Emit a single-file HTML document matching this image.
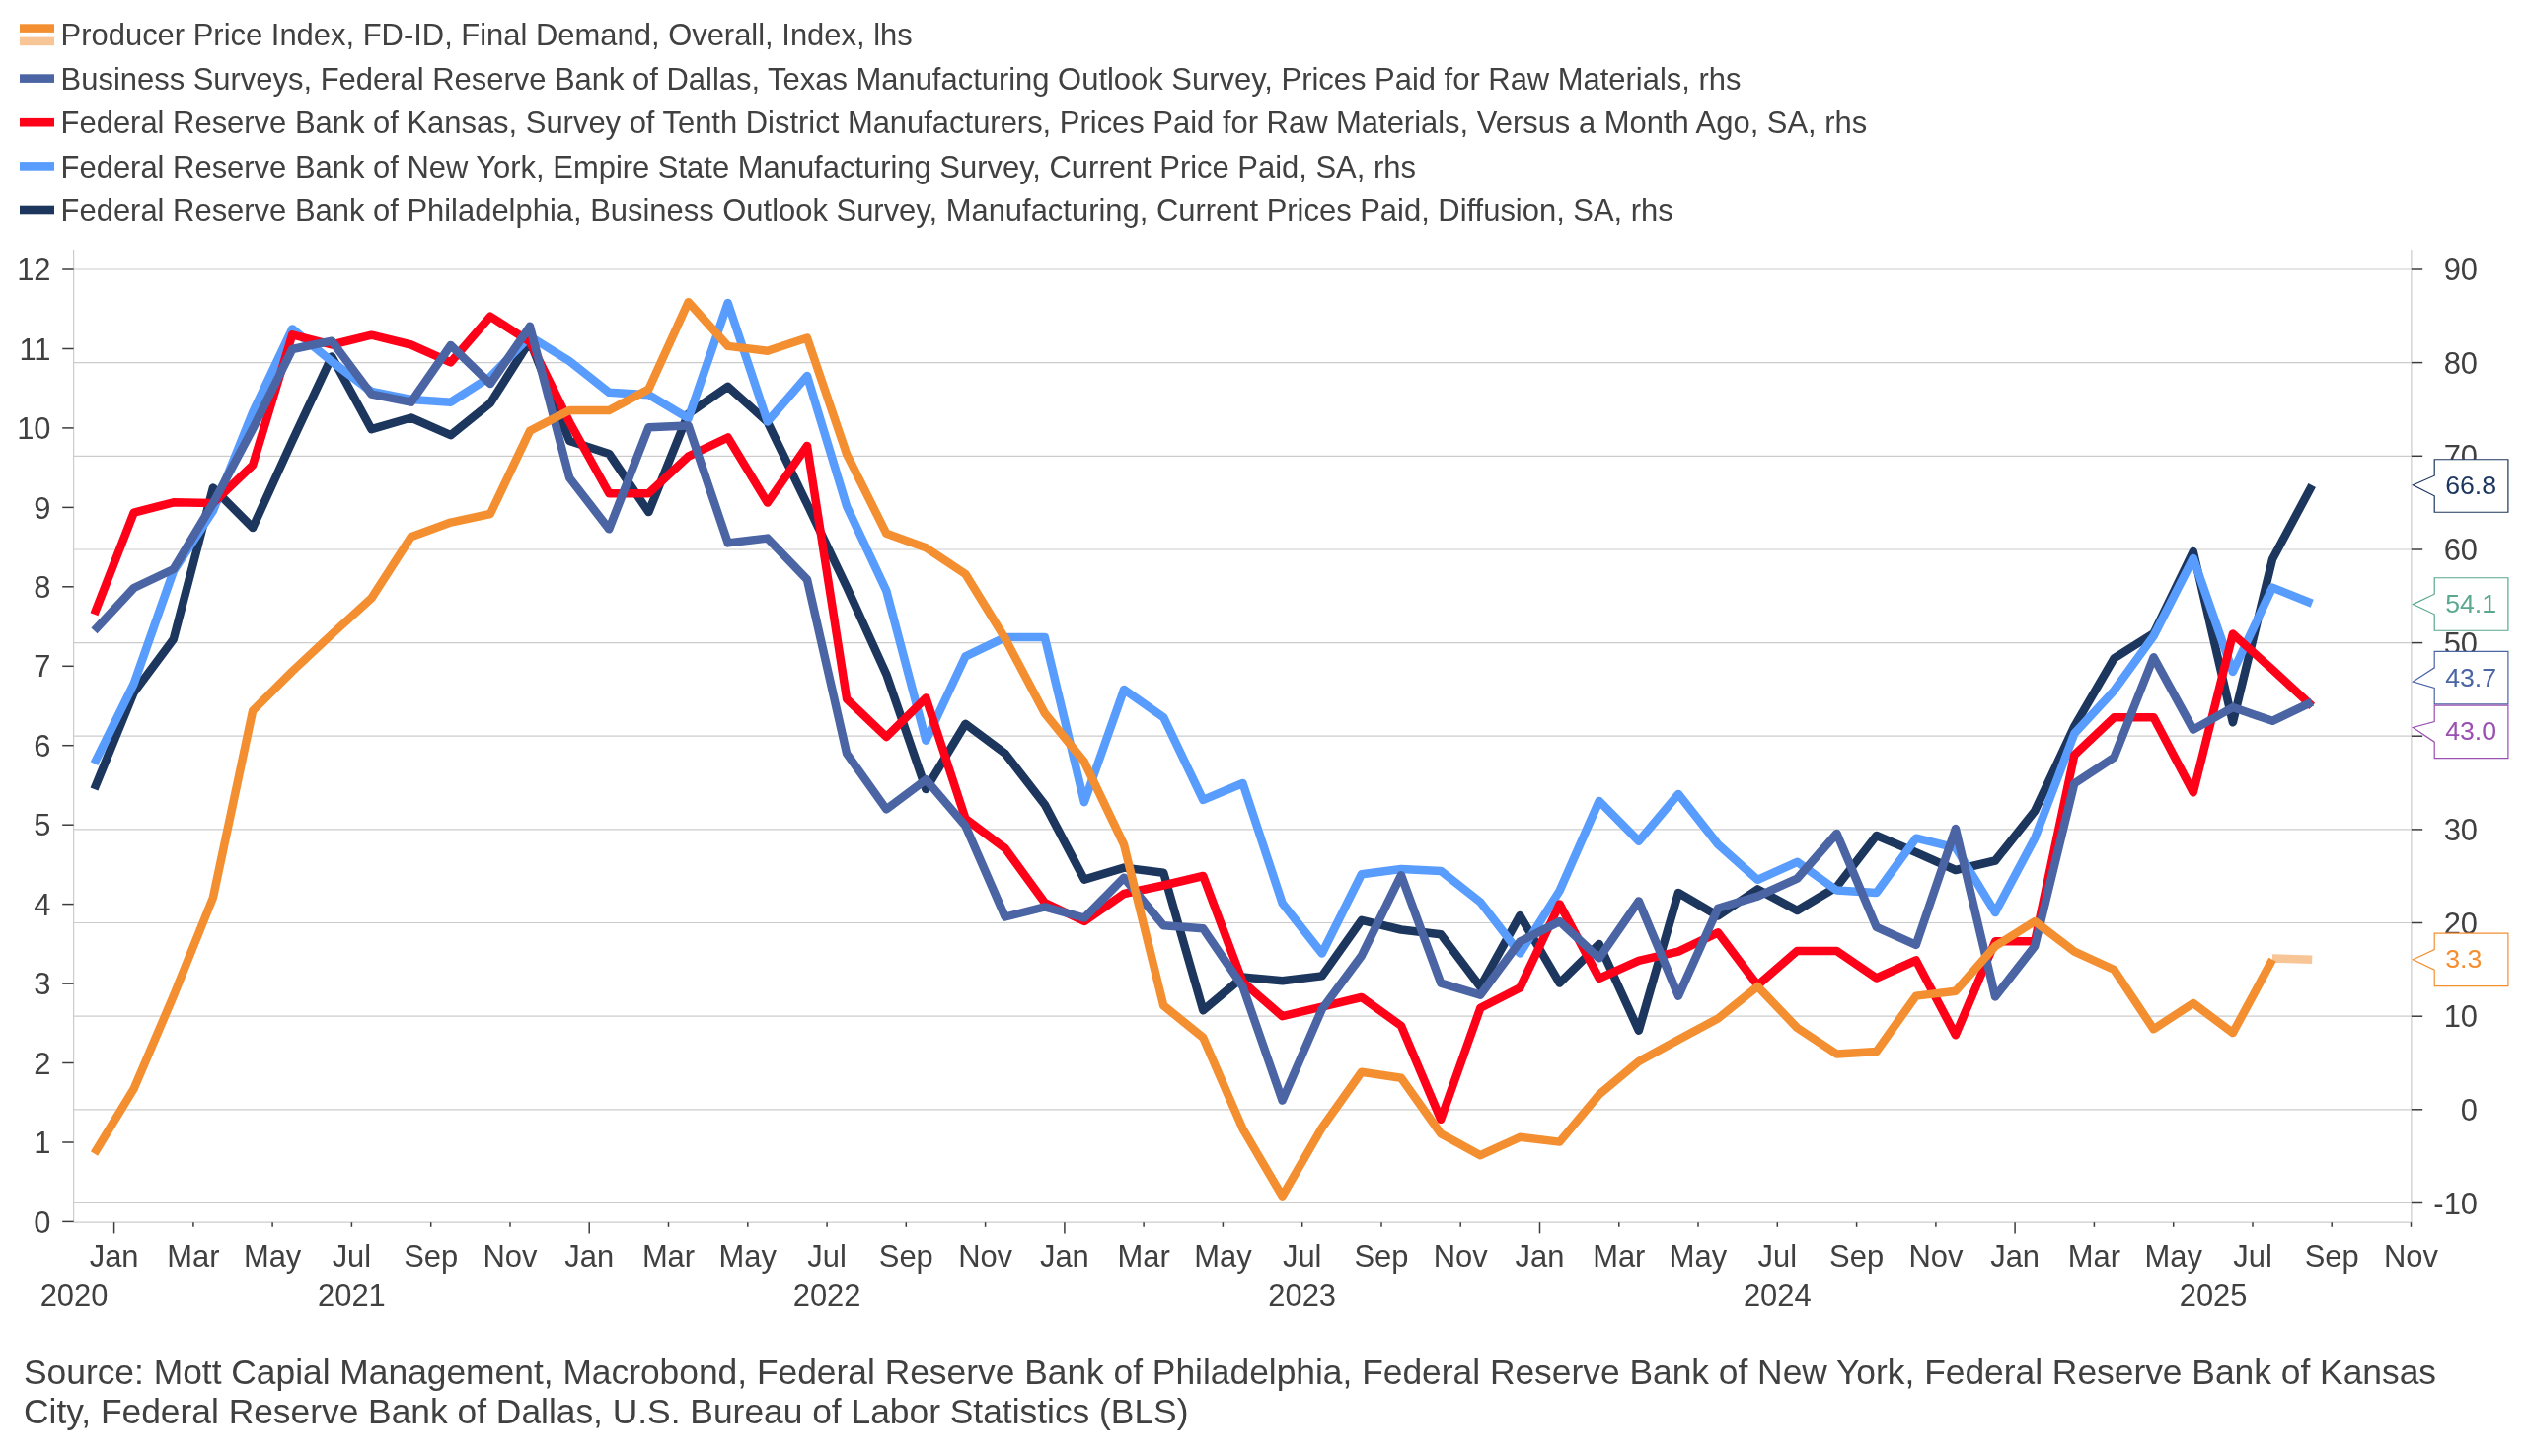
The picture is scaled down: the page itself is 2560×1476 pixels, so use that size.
<!DOCTYPE html><html><head><meta charset="utf-8"><style>html,body{margin:0;padding:0;background:#fff;}body{width:2560px;height:1476px;overflow:hidden;}svg{display:block;}text{-webkit-font-smoothing:antialiased;}text{font-family:"Liberation Sans",sans-serif;}</style></head><body>
<div style="will-change:transform;width:2560px;height:1476px">
<svg width="2560" height="1476" viewBox="0 0 2560 1476">
<rect x="20" y="24.3" width="35" height="8.6" fill="#F48F31"/>
<rect x="20" y="37.6" width="35" height="8.6" fill="#F7C596"/>
<rect x="20" y="75.3" width="35" height="8.6" fill="#4A64A4"/>
<rect x="20" y="119.9" width="35" height="8.6" fill="#FF0019"/>
<rect x="20" y="164.1" width="35" height="8.6" fill="#589CFD"/>
<rect x="20" y="208.7" width="35" height="8.6" fill="#1C365E"/>
<g fill="#404040" font-size="30.94">
<text x="61.6" y="46.0">Producer Price Index, FD-ID, Final Demand, Overall, Index, lhs</text>
<text x="61.6" y="90.6">Business Surveys, Federal Reserve Bank of Dallas, Texas Manufacturing Outlook Survey, Prices Paid for Raw Materials, rhs</text>
<text x="61.6" y="135.1">Federal Reserve Bank of Kansas, Survey of Tenth District Manufacturers, Prices Paid for Raw Materials, Versus a Month Ago, SA, rhs</text>
<text x="61.6" y="179.6">Federal Reserve Bank of New York, Empire State Manufacturing Survey, Current Price Paid, SA, rhs</text>
<text x="61.6" y="224.0">Federal Reserve Bank of Philadelphia, Business Outlook Survey, Manufacturing, Current Prices Paid, Diffusion, SA, rhs</text>
</g>
<g stroke="#cccccc" stroke-width="1.2" fill="none">
<line x1="74.6" y1="1219.5" x2="2443.9" y2="1219.5"/>
<line x1="74.6" y1="1124.8" x2="2443.9" y2="1124.8"/>
<line x1="74.6" y1="1030.2" x2="2443.9" y2="1030.2"/>
<line x1="74.6" y1="935.5" x2="2443.9" y2="935.5"/>
<line x1="74.6" y1="840.9" x2="2443.9" y2="840.9"/>
<line x1="74.6" y1="746.2" x2="2443.9" y2="746.2"/>
<line x1="74.6" y1="651.6" x2="2443.9" y2="651.6"/>
<line x1="74.6" y1="557.0" x2="2443.9" y2="557.0"/>
<line x1="74.6" y1="462.3" x2="2443.9" y2="462.3"/>
<line x1="74.6" y1="367.6" x2="2443.9" y2="367.6"/>
<line x1="74.6" y1="273.0" x2="2443.9" y2="273.0"/>
<line x1="74.6" y1="253" x2="74.6" y2="1239.2"/>
<line x1="2443.9" y1="253" x2="2443.9" y2="1239.2"/>
<line x1="74.6" y1="1239.2" x2="2443.9" y2="1239.2"/>
</g>
<g stroke="#3c3c3c" stroke-width="1.5" fill="none">
<line x1="63.2" y1="1238.4" x2="74.6" y2="1238.4"/>
<line x1="63.2" y1="1158.0" x2="74.6" y2="1158.0"/>
<line x1="63.2" y1="1077.5" x2="74.6" y2="1077.5"/>
<line x1="63.2" y1="997.1" x2="74.6" y2="997.1"/>
<line x1="63.2" y1="916.6" x2="74.6" y2="916.6"/>
<line x1="63.2" y1="836.2" x2="74.6" y2="836.2"/>
<line x1="63.2" y1="755.7" x2="74.6" y2="755.7"/>
<line x1="63.2" y1="675.3" x2="74.6" y2="675.3"/>
<line x1="63.2" y1="594.8" x2="74.6" y2="594.8"/>
<line x1="63.2" y1="514.4" x2="74.6" y2="514.4"/>
<line x1="63.2" y1="433.9" x2="74.6" y2="433.9"/>
<line x1="63.2" y1="353.5" x2="74.6" y2="353.5"/>
<line x1="63.2" y1="273.0" x2="74.6" y2="273.0"/>
<line x1="2443.9" y1="1219.5" x2="2455.2" y2="1219.5"/>
<line x1="2443.9" y1="1124.8" x2="2455.2" y2="1124.8"/>
<line x1="2443.9" y1="1030.2" x2="2455.2" y2="1030.2"/>
<line x1="2443.9" y1="935.5" x2="2455.2" y2="935.5"/>
<line x1="2443.9" y1="840.9" x2="2455.2" y2="840.9"/>
<line x1="2443.9" y1="746.2" x2="2455.2" y2="746.2"/>
<line x1="2443.9" y1="651.6" x2="2455.2" y2="651.6"/>
<line x1="2443.9" y1="557.0" x2="2455.2" y2="557.0"/>
<line x1="2443.9" y1="462.3" x2="2455.2" y2="462.3"/>
<line x1="2443.9" y1="367.6" x2="2455.2" y2="367.6"/>
<line x1="2443.9" y1="273.0" x2="2455.2" y2="273.0"/>
<line x1="115.6" y1="1239.2" x2="115.6" y2="1250.4"/>
<line x1="195.9" y1="1239.2" x2="195.9" y2="1243.8"/>
<line x1="276.1" y1="1239.2" x2="276.1" y2="1243.8"/>
<line x1="356.4" y1="1239.2" x2="356.4" y2="1243.8"/>
<line x1="436.7" y1="1239.2" x2="436.7" y2="1243.8"/>
<line x1="517.0" y1="1239.2" x2="517.0" y2="1243.8"/>
<line x1="597.2" y1="1239.2" x2="597.2" y2="1250.4"/>
<line x1="677.5" y1="1239.2" x2="677.5" y2="1243.8"/>
<line x1="757.8" y1="1239.2" x2="757.8" y2="1243.8"/>
<line x1="838.1" y1="1239.2" x2="838.1" y2="1243.8"/>
<line x1="918.3" y1="1239.2" x2="918.3" y2="1243.8"/>
<line x1="998.6" y1="1239.2" x2="998.6" y2="1243.8"/>
<line x1="1078.9" y1="1239.2" x2="1078.9" y2="1250.4"/>
<line x1="1159.1" y1="1239.2" x2="1159.1" y2="1243.8"/>
<line x1="1239.4" y1="1239.2" x2="1239.4" y2="1243.8"/>
<line x1="1319.7" y1="1239.2" x2="1319.7" y2="1243.8"/>
<line x1="1400.0" y1="1239.2" x2="1400.0" y2="1243.8"/>
<line x1="1480.2" y1="1239.2" x2="1480.2" y2="1243.8"/>
<line x1="1560.5" y1="1239.2" x2="1560.5" y2="1250.4"/>
<line x1="1640.8" y1="1239.2" x2="1640.8" y2="1243.8"/>
<line x1="1721.0" y1="1239.2" x2="1721.0" y2="1243.8"/>
<line x1="1801.3" y1="1239.2" x2="1801.3" y2="1243.8"/>
<line x1="1881.6" y1="1239.2" x2="1881.6" y2="1243.8"/>
<line x1="1961.9" y1="1239.2" x2="1961.9" y2="1243.8"/>
<line x1="2042.1" y1="1239.2" x2="2042.1" y2="1250.4"/>
<line x1="2122.4" y1="1239.2" x2="2122.4" y2="1243.8"/>
<line x1="2202.7" y1="1239.2" x2="2202.7" y2="1243.8"/>
<line x1="2283.0" y1="1239.2" x2="2283.0" y2="1243.8"/>
<line x1="2363.2" y1="1239.2" x2="2363.2" y2="1243.8"/>
<line x1="2443.5" y1="1239.2" x2="2443.5" y2="1243.8"/>
</g>
<g fill="#404040" font-size="30.9">
<text x="51.5" y="1249.5" text-anchor="end">0</text>
<text x="51.5" y="1169.0" text-anchor="end">1</text>
<text x="51.5" y="1088.6" text-anchor="end">2</text>
<text x="51.5" y="1008.2" text-anchor="end">3</text>
<text x="51.5" y="927.7" text-anchor="end">4</text>
<text x="51.5" y="847.3" text-anchor="end">5</text>
<text x="51.5" y="766.8" text-anchor="end">6</text>
<text x="51.5" y="686.4" text-anchor="end">7</text>
<text x="51.5" y="605.9" text-anchor="end">8</text>
<text x="51.5" y="525.5" text-anchor="end">9</text>
<text x="51.5" y="445.0" text-anchor="end">10</text>
<text x="51.5" y="364.6" text-anchor="end">11</text>
<text x="51.5" y="284.1" text-anchor="end">12</text>
<text x="2511" y="1230.6" text-anchor="end">-10</text>
<text x="2511" y="1135.9" text-anchor="end">0</text>
<text x="2511" y="1041.3" text-anchor="end">10</text>
<text x="2511" y="946.6" text-anchor="end">20</text>
<text x="2511" y="852.0" text-anchor="end">30</text>
<text x="2511" y="757.4" text-anchor="end">40</text>
<text x="2511" y="662.7" text-anchor="end">50</text>
<text x="2511" y="568.1" text-anchor="end">60</text>
<text x="2511" y="473.4" text-anchor="end">70</text>
<text x="2511" y="378.8" text-anchor="end">80</text>
<text x="2511" y="284.1" text-anchor="end">90</text>
<text x="115.6" y="1283.7" text-anchor="middle">Jan</text>
<text x="195.9" y="1283.7" text-anchor="middle">Mar</text>
<text x="276.1" y="1283.7" text-anchor="middle">May</text>
<text x="356.4" y="1283.7" text-anchor="middle">Jul</text>
<text x="436.7" y="1283.7" text-anchor="middle">Sep</text>
<text x="517.0" y="1283.7" text-anchor="middle">Nov</text>
<text x="597.2" y="1283.7" text-anchor="middle">Jan</text>
<text x="677.5" y="1283.7" text-anchor="middle">Mar</text>
<text x="757.8" y="1283.7" text-anchor="middle">May</text>
<text x="838.1" y="1283.7" text-anchor="middle">Jul</text>
<text x="918.3" y="1283.7" text-anchor="middle">Sep</text>
<text x="998.6" y="1283.7" text-anchor="middle">Nov</text>
<text x="1078.9" y="1283.7" text-anchor="middle">Jan</text>
<text x="1159.1" y="1283.7" text-anchor="middle">Mar</text>
<text x="1239.4" y="1283.7" text-anchor="middle">May</text>
<text x="1319.7" y="1283.7" text-anchor="middle">Jul</text>
<text x="1400.0" y="1283.7" text-anchor="middle">Sep</text>
<text x="1480.2" y="1283.7" text-anchor="middle">Nov</text>
<text x="1560.5" y="1283.7" text-anchor="middle">Jan</text>
<text x="1640.8" y="1283.7" text-anchor="middle">Mar</text>
<text x="1721.0" y="1283.7" text-anchor="middle">May</text>
<text x="1801.3" y="1283.7" text-anchor="middle">Jul</text>
<text x="1881.6" y="1283.7" text-anchor="middle">Sep</text>
<text x="1961.9" y="1283.7" text-anchor="middle">Nov</text>
<text x="2042.1" y="1283.7" text-anchor="middle">Jan</text>
<text x="2122.4" y="1283.7" text-anchor="middle">Mar</text>
<text x="2202.7" y="1283.7" text-anchor="middle">May</text>
<text x="2283.0" y="1283.7" text-anchor="middle">Jul</text>
<text x="2363.2" y="1283.7" text-anchor="middle">Sep</text>
<text x="2443.5" y="1283.7" text-anchor="middle">Nov</text>
<text x="75.0" y="1323.8" text-anchor="middle">2020</text>
<text x="356.4" y="1323.8" text-anchor="middle">2021</text>
<text x="838.1" y="1323.8" text-anchor="middle">2022</text>
<text x="1319.7" y="1323.8" text-anchor="middle">2023</text>
<text x="1801.3" y="1323.8" text-anchor="middle">2024</text>
<text x="2243.1" y="1323.8" text-anchor="middle">2025</text>
</g>
<g fill="none" stroke-width="8.5" stroke-linejoin="round" stroke-linecap="butt">
<polyline stroke="#1C365E" points="95.5,800.0 135.7,702.0 175.8,648.0 215.9,494.6 256.1,534.9 296.2,447.0 336.3,361.5 376.5,435.2 416.6,423.5 456.8,441.1 496.9,408.7 537.0,345.6 577.2,447.0 617.3,460.0 657.4,519.1 697.6,419.4 737.7,391.8 777.8,427.8 818.0,511.0 858.1,595.0 898.3,683.4 938.4,800.0 978.5,733.8 1018.7,763.9 1058.8,815.6 1098.9,891.6 1139.1,879.6 1179.2,884.7 1219.3,1024.2 1259.5,990.6 1299.6,994.2 1339.8,989.4 1379.9,932.9 1420.0,942.5 1460.2,947.3 1500.3,1000.4 1540.4,928.1 1580.6,996.6 1620.7,956.9 1660.8,1044.7 1701.0,905.0 1741.1,928.5 1781.3,901.4 1821.4,923.0 1861.5,899.0 1901.7,847.0 1941.8,864.1 1981.9,882.0 2022.1,872.5 2062.2,822.1 2102.3,736.4 2142.5,667.4 2182.6,642.0 2222.8,559.1 2262.9,732.3 2303.0,566.9 2343.2,492.0"/>
<polyline stroke="#589CFD" points="95.5,774.2 135.7,693.0 175.8,579.0 215.9,518.0 256.1,418.0 296.2,333.4 336.3,366.5 376.5,397.0 416.6,405.0 456.8,407.7 496.9,382.0 537.0,341.0 577.2,366.2 617.3,397.8 657.4,400.2 697.6,424.2 737.7,307.0 777.8,427.5 818.0,381.0 858.1,513.2 898.3,598.9 938.4,750.7 978.5,665.3 1018.7,646.1 1058.8,646.1 1098.9,813.2 1139.1,699.0 1179.2,727.2 1219.3,810.9 1259.5,794.0 1299.6,915.7 1339.8,966.5 1379.9,886.2 1420.0,881.0 1460.2,882.9 1500.3,914.5 1540.4,966.5 1580.6,903.0 1620.7,812.0 1660.8,852.8 1701.0,805.0 1741.1,856.0 1781.3,891.8 1821.4,873.8 1861.5,902.6 1901.7,905.0 1941.8,849.7 1981.9,859.3 2022.1,925.0 2062.2,849.7 2102.3,743.7 2142.5,700.1 2182.6,644.8 2222.8,566.0 2262.9,681.0 2303.0,595.6 2343.2,611.8"/>
<polyline stroke="#FF0019" points="95.5,622.8 135.7,519.6 175.8,509.3 215.9,510.0 256.1,471.5 296.2,339.3 336.3,349.5 376.5,339.7 416.6,349.5 456.8,367.3 496.9,320.7 537.0,346.5 577.2,428.0 617.3,500.2 657.4,500.2 697.6,462.7 737.7,443.5 777.8,509.6 818.0,451.9 858.1,708.6 898.3,747.0 938.4,707.4 978.5,830.0 1018.7,860.0 1058.8,915.0 1098.9,934.0 1139.1,906.0 1179.2,897.5 1219.3,888.0 1259.5,995.4 1299.6,1030.2 1339.8,1020.6 1379.9,1011.0 1420.0,1039.9 1460.2,1134.8 1500.3,1021.8 1540.4,1001.4 1580.6,916.5 1620.7,991.8 1660.8,973.8 1701.0,964.6 1741.1,945.4 1781.3,998.8 1821.4,963.9 1861.5,963.9 1901.7,991.5 1941.8,973.5 1981.9,1049.2 2022.1,954.3 2062.2,954.3 2102.3,765.3 2142.5,727.3 2182.6,727.3 2222.8,803.3 2262.9,642.6 2303.0,678.6 2343.2,715.9"/>
<polyline stroke="#4A64A4" points="95.5,639.4 135.7,596.0 175.8,577.0 215.9,510.2 256.1,434.8 296.2,354.0 336.3,345.7 376.5,399.7 416.6,407.7 456.8,350.0 496.9,389.0 537.0,330.8 577.2,484.5 617.3,536.3 657.4,433.3 697.6,431.4 737.7,550.4 777.8,545.6 818.0,587.5 858.1,763.9 898.3,820.4 938.4,790.3 978.5,837.2 1018.7,929.5 1058.8,919.4 1098.9,930.5 1139.1,889.8 1179.2,938.3 1219.3,941.3 1259.5,1000.2 1299.6,1115.6 1339.8,1023.0 1379.9,968.9 1420.0,887.2 1460.2,996.6 1500.3,1008.6 1540.4,954.5 1580.6,934.1 1620.7,971.3 1660.8,913.4 1701.0,1009.7 1741.1,920.7 1781.3,908.6 1821.4,890.6 1861.5,844.9 1901.7,939.9 1941.8,957.9 1981.9,840.1 2022.1,1010.4 2062.2,959.1 2102.3,794.2 2142.5,767.8 2182.6,666.3 2222.8,739.6 2262.9,717.1 2303.0,730.8 2343.2,711.6"/>
<polyline stroke="#F7C596" points="2303.0,971.6 2343.2,972.8"/>
<polyline stroke="#F48F31" points="95.5,1169.5 135.7,1103.6 175.8,1009.7 215.9,910.0 256.1,720.6 296.2,680.5 336.3,643.0 376.5,606.4 416.6,544.2 456.8,529.6 496.9,521.0 537.0,436.8 577.2,416.0 617.3,416.0 657.4,394.5 697.6,306.2 737.7,350.9 777.8,355.7 818.0,342.5 858.1,460.3 898.3,540.8 938.4,555.2 978.5,582.0 1018.7,647.3 1058.8,723.0 1098.9,772.3 1139.1,856.4 1179.2,1019.4 1219.3,1051.9 1259.5,1144.4 1299.6,1212.7 1339.8,1143.2 1379.9,1086.7 1420.0,1092.7 1460.2,1149.2 1500.3,1171.2 1540.4,1152.8 1580.6,1157.6 1620.7,1109.6 1660.8,1075.9 1701.0,1054.0 1741.1,1032.5 1781.3,1000.0 1821.4,1042.0 1861.5,1068.5 1901.7,1066.0 1941.8,1009.6 1981.9,1004.8 2022.1,959.1 2062.2,934.0 2102.3,964.6 2142.5,983.0 2182.6,1043.3 2222.8,1017.0 2262.9,1047.1 2303.0,972.8"/>
</g>
<path d="M2467.2,465.75 H2541.9 V519.25 H2467.2 V502.80 L2445.4,491.70 L2467.2,482.20 Z" fill="#fff" stroke="#1C365E" stroke-width="1.2"/><text x="2478.2" y="501.10" font-size="26.7" fill="#1C365E">66.8</text>
<path d="M2467.2,585.75 H2541.9 V639.25 H2467.2 V622.80 L2445.4,612.60 L2467.2,602.20 Z" fill="#fff" stroke="#5AA890" stroke-width="1.2"/><text x="2478.2" y="621.10" font-size="26.7" fill="#5AA890">54.1</text>
<path d="M2467.2,660.40 H2541.9 V713.90 H2467.2 V697.45 L2445.4,691.00 L2467.2,676.85 Z" fill="#fff" stroke="#4A64A4" stroke-width="1.2"/><text x="2478.2" y="695.75" font-size="26.7" fill="#4A64A4">43.7</text>
<path d="M2467.2,715.10 H2541.9 V768.60 H2467.2 V752.15 L2445.4,737.40 L2467.2,731.55 Z" fill="#fff" stroke="#9A50B0" stroke-width="1.2"/><text x="2478.2" y="750.45" font-size="26.7" fill="#9A50B0">43.0</text>
<path d="M2467.2,946.05 H2541.9 V999.55 H2467.2 V983.10 L2445.4,972.80 L2467.2,962.50 Z" fill="#fff" stroke="#F48F31" stroke-width="1.2"/><text x="2478.2" y="981.40" font-size="26.7" fill="#F48F31">3.3</text>
<g fill="#404040" font-size="35.36">
<text x="24.0" y="1402.8">Source: Mott Capial Management, Macrobond, Federal Reserve Bank of Philadelphia, Federal Reserve Bank of New York, Federal Reserve Bank of Kansas</text>
<text x="24.0" y="1442.8">City, Federal Reserve Bank of Dallas, U.S. Bureau of Labor Statistics (BLS)</text>
</g>
</svg></div></body></html>
